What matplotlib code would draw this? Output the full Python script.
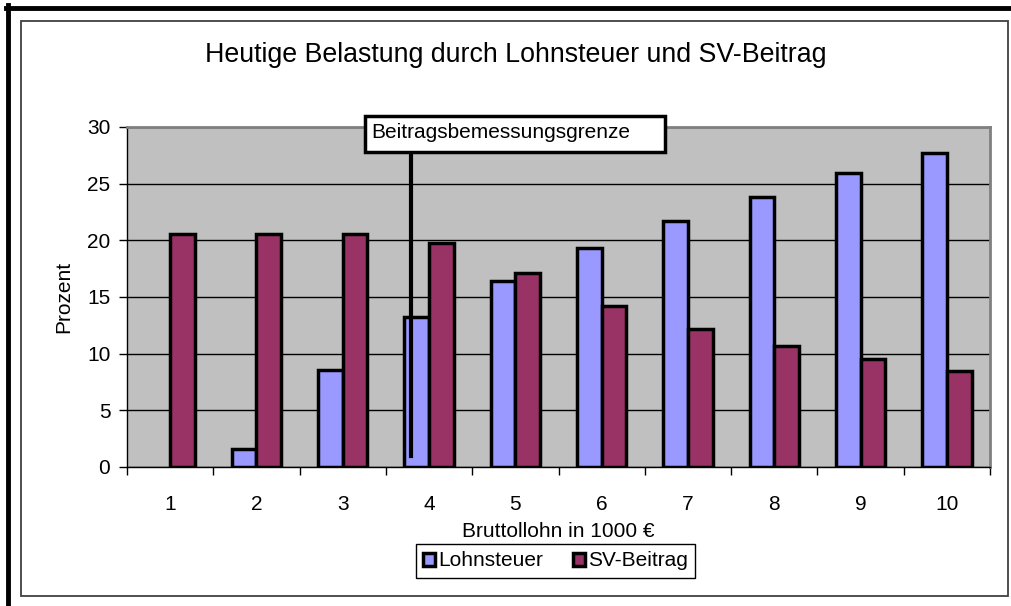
import matplotlib
matplotlib.use("Agg")
import matplotlib.pyplot as plt
from matplotlib.patches import Rectangle
import numpy as np

plt.rcParams['font.family'] = ['Liberation Sans', 'DejaVu Sans']

categories = ['1', '2', '3', '4', '5', '6', '7', '8', '9', '10']
lohnsteuer = [0.0, 1.6, 8.6, 13.2, 16.4, 19.3, 21.7, 23.8, 25.9, 27.7]
sv_beitrag = [20.6, 20.6, 20.6, 19.8, 17.1, 14.2, 12.2, 10.7, 9.5, 8.5]
yticks = [0, 5, 10, 15, 20, 25, 30]
title = 'Heutige Belastung durch Lohnsteuer und SV-Beitrag'
xlabel = 'Bruttollohn in 1000 €'
ylabel = 'Prozent'
annot_text = 'Beitragsbemessungsgrenze'

W, H = 1011, 606
fig = plt.figure(figsize=(W / 100, H / 100), dpi=100)
fig.patch.set_facecolor('white')

def fx(px):
    return px / W

def fy(py):
    return 1 - py / H

FS = 15

# outer frame lines (thick, left and top)
fig.add_artist(plt.Line2D([fx(8), fx(8)], [fy(5), 0], color='black', lw=3.5))
fig.add_artist(plt.Line2D([fx(6), 1], [fy(8), fy(8)], color='black', lw=3.5))
# inner chart area border
fig.add_artist(Rectangle((fx(20.5), fy(596)), fx(1008) - fx(20.5), fy(21) - fy(596),
                         fill=False, edgecolor='#404040', lw=1.3))

ax = fig.add_axes([fx(127), fy(467), fx(990) - fx(127), fy(127) - fy(467)])
ax.set_facecolor('#C0C0C0')

x = np.arange(1, len(categories) + 1)
bw = 1 / 3.5
lw_l = [0 if v == 0 else 2.5 for v in lohnsteuer]
lw_s = [0 if v == 0 else 2.5 for v in sv_beitrag]
ax.bar(x - bw / 2, lohnsteuer, width=bw, color='#9999FF', edgecolor='black', linewidth=lw_l,
       label='Lohnsteuer', zorder=3)
ax.bar(x + bw / 2, sv_beitrag, width=bw, color='#993366', edgecolor='black', linewidth=lw_s,
       label='SV-Beitrag', zorder=3)

ax.set_xlim(0.5, len(categories) + 0.5)
ax.set_ylim(0, 30)
ax.set_yticks(yticks)
ax.set_yticklabels([str(v) for v in yticks], fontsize=FS)
ax.set_xticks(x)
ax.set_xticklabels(categories, fontsize=FS)
ax.set_xticks(np.arange(0.5, len(categories) + 1, 1), minor=True)
ax.tick_params(axis='x', which='major', length=0, pad=20)
ax.tick_params(axis='x', which='minor', length=6, width=1, direction='out', color='black')
ax.tick_params(axis='y', length=6, width=1, direction='out', pad=6)
ax.grid(axis='y', color='black', lw=1, zorder=1)
ax.set_axisbelow(True)

for s in ['top', 'right']:
    ax.spines[s].set_color('#808080')
    ax.spines[s].set_linewidth(2)
for s in ['left', 'bottom']:
    ax.spines[s].set_color('black')
    ax.spines[s].set_linewidth(1)

ax.set_xlabel(xlabel, fontsize=FS, labelpad=6)
ax.set_ylabel(ylabel, fontsize=FS, labelpad=10)

fig.text(fx(516), fy(55), title, ha='center', va='center', fontsize=19.3)

# annotation: line + box
ax.plot([3.79, 3.79], [1.0, 27.8], color='black', lw=3, zorder=5, clip_on=False)
ax.add_patch(Rectangle((3.26, 27.8), 6.73 - 3.26, 31.0 - 27.8, facecolor='white',
                       edgecolor='black', lw=2.5, zorder=6, clip_on=False))
ax.text(3.33, 29.55, annot_text, ha='left', va='center', fontsize=FS, zorder=7, clip_on=False)

leg = fig.legend(loc='center', bbox_to_anchor=(fx(555.5), fy(561)), ncol=2, fontsize=FS,
                 frameon=True, fancybox=False, edgecolor='black', framealpha=1,
                 handlelength=0.6, handleheight=0.6, handletextpad=0.15, columnspacing=1.4,
                 borderpad=0.35)
leg.get_frame().set_linewidth(1)
for h in leg.legend_handles:
    h.set_linewidth(2.5)
    h.set_edgecolor('black')

fig.savefig('out.png', dpi=100, facecolor='white')
